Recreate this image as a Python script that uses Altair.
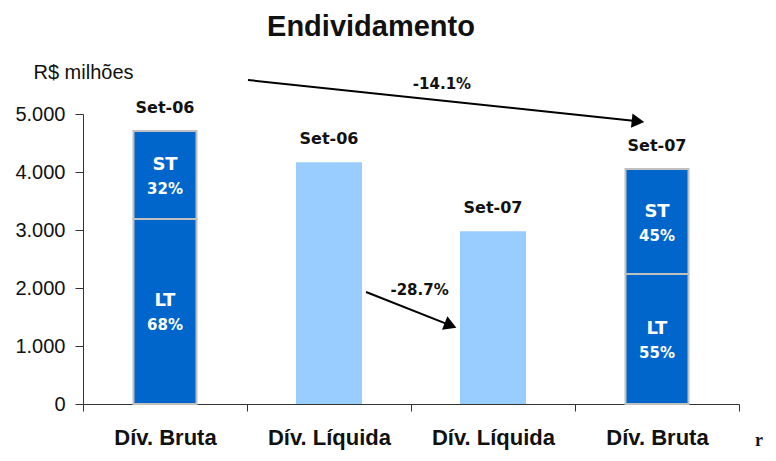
import math
import altair as alt
import pandas as pd

# ---- data -------------------------------------------------------------
keys = ["b06", "l06", "l07", "b07"]
categories = ["Dív. Bruta", "Dív. Líquida", "Dív. Líquida", "Dív. Bruta"]
periods = ["Set-06", "Set-06", "Set-07", "Set-07"]

bruta_keys = ["b06", "b07"]
bruta_lt = [3190, 2240]
bruta_st = [1515, 1810]
bruta_lt_pct = ["68%", "55%"]
bruta_st_pct = ["32%", "45%"]

liquida_keys = ["l06", "l07"]
liquida_values = [4170, 2980]

y_ticks = [0, 1000, 2000, 3000, 4000, 5000]

# annotations (x in band-index units, y in R$ milhões)
arrow_labels = ["-14.1%", "-28.7%"]
arrow_x0 = [1.006, 1.726]
arrow_y0 = [5586, 1931]
arrow_x1 = [3.384, 2.241]
arrow_y1 = [4874, 1355]
arrow_label_x = [2.189, 2.052]
arrow_label_y = [5431, 1879]

title_text = "Endividamento"
title_x, title_y = 1.756, 6345
stray_text = "r"
stray_x, stray_y = 4.122, -724

# ---- layout ----------------------------------------------------------
W, H = 656, 290
X_PX = W / len(keys)
Y_PX = H / 5000.0

DARK = "#0066CC"
LIGHT = "#99CCFF"

# ---- tables ----------------------------------------------------------
seg_rows = []
for k, lt, st, ltp, stp in zip(bruta_keys, bruta_lt, bruta_st, bruta_lt_pct, bruta_st_pct):
    seg_rows.append(dict(key=k, seg="LT", pct=ltp, start=0, end=lt, mid=lt / 2))
    seg_rows.append(dict(key=k, seg="ST", pct=stp, start=lt, end=lt + st, mid=lt + st / 2))
segs = pd.DataFrame(seg_rows)

liq = pd.DataFrame(dict(key=liquida_keys, start=[0] * len(liquida_keys), end=liquida_values))

totals = {k: lt + st for k, lt, st in zip(bruta_keys, bruta_lt, bruta_st)}
totals.update(dict(zip(liquida_keys, liquida_values)))
per = pd.DataFrame(dict(key=keys, period=periods, total=[totals[k] for k in keys]))

angles = [
    math.degrees(math.atan2((ya - yb) * Y_PX, (xb - xa) * X_PX))
    for xa, ya, xb, yb in zip(arrow_x0, arrow_y0, arrow_x1, arrow_y1)
]
arrows = pd.DataFrame(dict(x0=arrow_x0, y0=arrow_y0, x1=arrow_x1, y1=arrow_y1,
                           angle=angles, label=arrow_labels,
                           lx=arrow_label_x, ly=arrow_label_y))
title_df = pd.DataFrame(dict(x=[title_x], y=[title_y], t=[title_text]))
stray_df = pd.DataFrame(dict(x=[stray_x], y=[stray_y], t=[stray_text]))

# ---- encodings -------------------------------------------------------
label_expr = " : ".join(
    f"datum.value == '{k}' ? '{c}'" for k, c in zip(keys, categories)
) + " : ''"

x_band = alt.X(
    "key:N",
    sort=keys,
    scale=alt.Scale(domain=keys, paddingInner=0, paddingOuter=0),
    axis=alt.Axis(
        title=None, labelExpr=label_expr, tickBand="extent", tickSize=7,
        labelPadding=16, labelAngle=0, labelFont="Liberation Sans",
        labelFontWeight="bold", labelFontSize=22, labelColor="#111111",
        domainColor="#333333", tickColor="#333333", grid=False,
    ),
)
yscale = alt.Scale(domain=[0, 5000], nice=False, zero=True)


def yenc(field):
    return alt.Y(
        f"{field}:Q", scale=yscale,
        axis=alt.Axis(
            values=y_ticks, labelExpr="replace(format(datum.value, ','), ',', '.')",
            labelFont="Liberation Sans", labelFontSize=20, labelColor="#111111",
            tickSize=8, tickColor="#333333", domainColor="#333333", grid=False,
            labelPadding=10, title="R$ milhões", titleAngle=0, titleAlign="left",
            titleBaseline="alphabetic", titleX=-50, titleY=-36,
            titleFont="Liberation Sans", titleFontSize=20, titleFontWeight="normal",
            titleColor="#111111",
        ),
    )


bruta_bars = alt.Chart(segs).mark_bar(size=63, color=DARK, stroke="#C0C0C0", strokeWidth=2).encode(
    x=x_band, y=yenc("start"), y2="end:Q"
)
liq_bars = alt.Chart(liq).mark_bar(size=66, color=LIGHT).encode(
    x=x_band, y=yenc("start"), y2="end:Q"
)
seg_names = alt.Chart(segs).mark_text(
    dy=-10, font="DejaVu Sans", fontWeight="bold", fontSize=18, color="white", baseline="middle"
).encode(x=x_band, y=alt.Y("mid:Q", scale=yscale), text="seg:N")
seg_pcts = alt.Chart(segs).mark_text(
    dy=14, font="DejaVu Sans", fontWeight="bold", fontSize=15, color="white", baseline="middle"
).encode(x=x_band, y=alt.Y("mid:Q", scale=yscale), text="pct:N")
per_labels = alt.Chart(per).mark_text(
    dy=-23, font="DejaVu Sans", fontWeight="bold", fontSize=16, color="#111111", baseline="middle"
).encode(x=x_band, y=alt.Y("total:Q", scale=yscale), text="period:N")

bars = alt.layer(bruta_bars, liq_bars, seg_names, seg_pcts, per_labels)

xq = alt.Scale(domain=[0, len(keys)], nice=False, zero=False)
arrow_lines = alt.Chart(arrows).mark_rule(color="black", strokeWidth=2).encode(
    x=alt.X("x0:Q", scale=xq, axis=None), x2="x1:Q",
    y=alt.Y("y0:Q", scale=yscale), y2="y1:Q",
)
arrow_heads = alt.Chart(arrows).mark_point(
    shape="triangle-right", filled=True, size=210, color="black", opacity=1
).encode(
    x=alt.X("x1:Q", scale=xq, axis=None), y=alt.Y("y1:Q", scale=yscale),
    angle=alt.Angle("angle:Q", scale=None),
)
arrow_text = alt.Chart(arrows).mark_text(
    font="DejaVu Sans", fontWeight="bold", fontSize=15, color="#111111", baseline="alphabetic"
).encode(x=alt.X("lx:Q", scale=xq, axis=None), y=alt.Y("ly:Q", scale=yscale), text="label:N")
title_mark = alt.Chart(title_df).mark_text(
    font="Liberation Sans", fontWeight="bold", fontSize=29, color="#111111", baseline="alphabetic"
).encode(x=alt.X("x:Q", scale=xq, axis=None), y=alt.Y("y:Q", scale=yscale), text="t:N")
stray_mark = alt.Chart(stray_df).mark_text(
    font="Liberation Serif", fontWeight="bold", fontSize=18, color="#111111", baseline="alphabetic"
).encode(x=alt.X("x:Q", scale=xq, axis=None), y=alt.Y("y:Q", scale=yscale), text="t:N")

annot = alt.layer(arrow_lines, arrow_heads, arrow_text, title_mark, stray_mark)

chart = alt.layer(bars, annot).resolve_scale(x="independent").properties(
    width=W, height=H,
    autosize=alt.AutoSizeParams(type="none"),
    padding={"left": 75, "top": 106, "right": 29, "bottom": 47},
    background="white",
).configure_view(stroke=None)

chart.save("out.html", embed_options={"renderer": "svg", "actions": False})
